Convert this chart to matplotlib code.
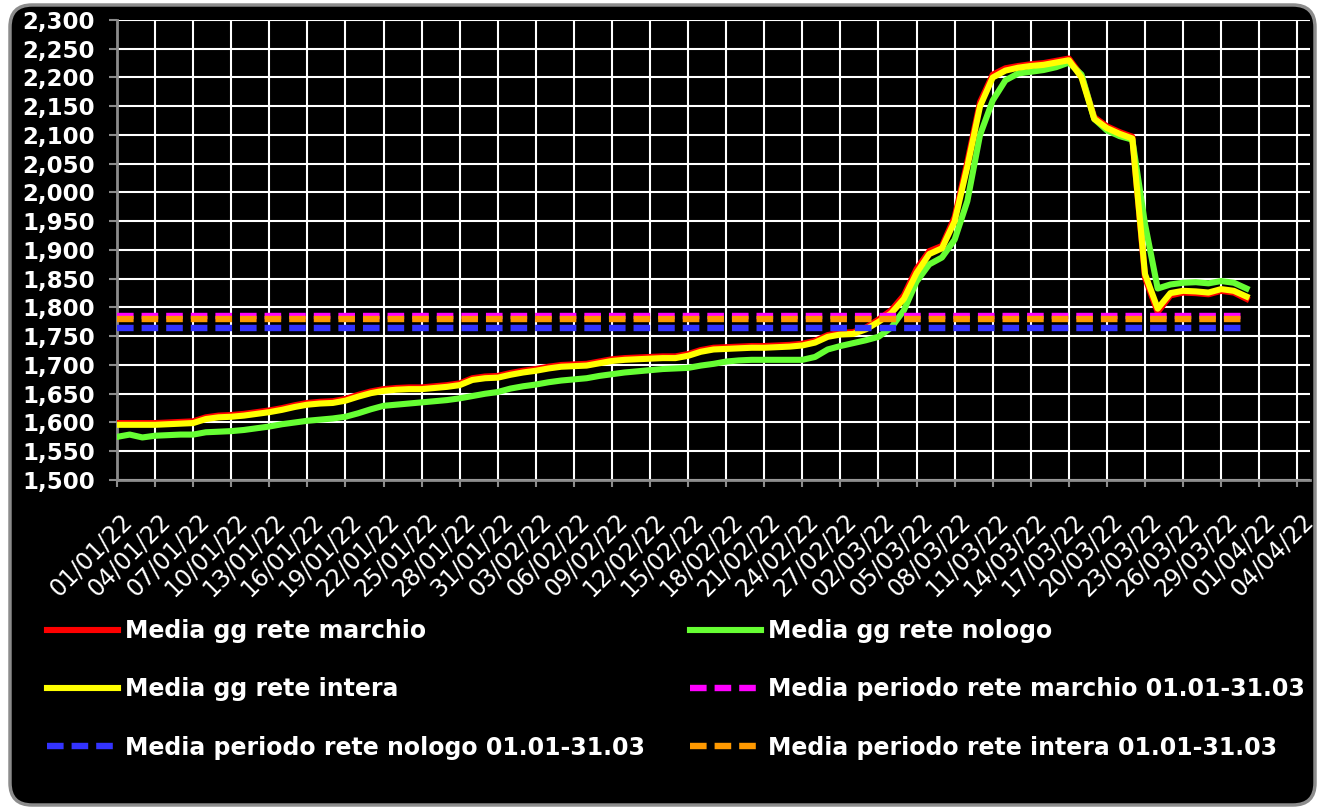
import numpy as np
import pandas as pd
import matplotlib
matplotlib.use("Agg")
import matplotlib.pyplot as plt
import matplotlib.dates as mdates
from matplotlib.patches import FancyBboxPatch
from matplotlib.transforms import IdentityTransform, ScaledTranslation
from matplotlib.ticker import FuncFormatter, MultipleLocator

# daily values 01/01/22 .. 31/03/22
dates = pd.date_range("2022-01-01", "2022-03-31", freq="D")

rete_marchio = [
    1599, 1599, 1599, 1599, 1600, 1601, 1602, 1609, 1612, 1613,
    1615, 1618, 1621, 1625, 1630, 1634, 1636, 1637, 1641, 1648,
    1654, 1658, 1660, 1661, 1661, 1663, 1665, 1668, 1677, 1680,
    1681, 1686, 1690, 1693, 1697, 1700, 1701, 1702, 1706, 1710,
    1712, 1713, 1714, 1715, 1715, 1719, 1726, 1730, 1731, 1732,
    1733, 1733, 1734, 1735, 1737, 1742, 1752, 1756, 1757, 1765,
    1779, 1795, 1821, 1867, 1898, 1907, 1957, 2053, 2157, 2205,
    2216, 2220, 2223, 2225, 2229, 2233, 2203, 2131, 2115, 2105,
    2097, 1852, 1792, 1821, 1826, 1825, 1823, 1829, 1826, 1815,
]
rete_nologo = [
    1575, 1579, 1574, 1577, 1578, 1579, 1579, 1583, 1584, 1585,
    1587, 1590, 1593, 1597, 1600, 1603, 1605, 1607, 1610, 1616,
    1623, 1629, 1631, 1633, 1635, 1637, 1639, 1642, 1646, 1650,
    1653, 1659, 1663, 1666, 1670, 1673, 1675, 1677, 1681, 1684,
    1687, 1689, 1691, 1693, 1694, 1695, 1699, 1702, 1706, 1708,
    1709, 1709, 1709, 1709, 1709, 1714, 1727, 1733, 1738, 1743,
    1749, 1765, 1795, 1845, 1875, 1887, 1918, 1985, 2100, 2160,
    2195, 2207, 2210, 2213, 2218, 2226, 2205, 2128, 2108, 2098,
    2092, 1945, 1833, 1840, 1843, 1844, 1842, 1846, 1843, 1833,
]
rete_intera = [
    1596, 1596, 1596, 1596, 1597, 1598, 1599, 1606, 1609, 1610,
    1612, 1615, 1618, 1622, 1627, 1631, 1633, 1634, 1638, 1645,
    1651, 1655, 1657, 1658, 1658, 1660, 1662, 1665, 1674, 1677,
    1678, 1683, 1687, 1690, 1694, 1697, 1698, 1699, 1703, 1707,
    1709, 1710, 1711, 1712, 1712, 1716, 1723, 1727, 1728, 1729,
    1730, 1730, 1731, 1732, 1734, 1739, 1749, 1753, 1754, 1762,
    1775, 1790, 1815, 1860, 1893, 1903, 1950, 2045, 2150, 2200,
    2212, 2217, 2220, 2222, 2226, 2230, 2200, 2128, 2112, 2102,
    2094, 1858, 1798, 1825, 1829, 1828, 1826, 1832, 1829, 1819,
]

# period averages 01.01-31.03
media_marchio = 1785
media_nologo = 1765
media_intera = 1780

labels = [
    "Media gg rete marchio",
    "Media gg rete nologo",
    "Media gg rete intera",
    "Media periodo rete marchio 01.01-31.03",
    "Media periodo rete nologo 01.01-31.03",
    "Media periodo rete intera 01.01-31.03",
]

fig = plt.figure(figsize=(13.22, 8.08), dpi=100)
fig.patch.set_facecolor("white")

# rounded black chart area
bg = FancyBboxPatch((10, 3), 1305, 800, boxstyle="round,pad=0,rounding_size=22",
                    transform=IdentityTransform(), facecolor="black",
                    edgecolor="#8c8c8c", linewidth=2.5, zorder=-5)
fig.patches.append(bg)

ax = fig.add_axes([117 / 1322, 1 - 480 / 808, (1310 - 117) / 1322, 460 / 808])
ax.set_facecolor("black")

lw = 4.4
l_m, = ax.plot(dates, rete_marchio, color="#ff0000", lw=lw, label=labels[0], zorder=3)
l_n, = ax.plot(dates, rete_nologo, color="#66ff33", lw=lw, label=labels[1], zorder=3)
l_i, = ax.plot(dates, rete_intera, color="#ffff00", lw=lw, label=labels[2], zorder=3)

dash = (2.6, 1.25)
p_m, = ax.plot(dates, np.full(len(dates), media_marchio), color="#ff00ff", lw=4.6,
               dashes=dash, label=labels[3], zorder=4)
p_n, = ax.plot(dates, np.full(len(dates), media_nologo), color="#3333ff", lw=4.6,
               dashes=dash, label=labels[4], zorder=4)
p_i, = ax.plot(dates, np.full(len(dates), media_intera), color="#ff9900", lw=4.6,
               dashes=dash, label=labels[5], zorder=4)

ax.set_ylim(1500, 2300)
ax.set_xlim(pd.Timestamp("2022-01-01"), pd.Timestamp("2022-04-05"))
ax.yaxis.set_major_locator(MultipleLocator(50))
ax.yaxis.set_major_formatter(FuncFormatter(lambda v, p: f"{v:,.0f}"))
ticks = pd.date_range("2022-01-01", "2022-04-04", freq="3D")
ax.set_xticks(ticks)
ax.xaxis.set_major_formatter(mdates.DateFormatter("%d/%m/%y"))

ax.grid(True, color="white", lw=1.5, zorder=1)
for s in ["top", "right"]:
    ax.spines[s].set_visible(False)
for s in ["left", "bottom"]:
    ax.spines[s].set_color("#8c8c8c")
    ax.spines[s].set_linewidth(2)

ax.tick_params(axis="y", colors="#8c8c8c", length=6, width=1.5, pad=10,
               labelcolor="white", labelsize=16.5)
ax.tick_params(axis="x", colors="#8c8c8c", length=5, width=1.5, pad=22,
               labelcolor="white", labelsize=17)
for t in ax.get_yticklabels():
    t.set_fontweight("bold")
off = ScaledTranslation(12 / 100, 0, fig.dpi_scale_trans)
for t in ax.get_xticklabels():
    t.set_rotation(45)
    t.set_ha("right")
    t.set_va("center")
    t.set_rotation_mode("anchor")
    t.set_transform(t.get_transform() + off)

handles = [l_m, l_i, p_n, l_n, p_m, p_i]
leg = fig.legend(handles=handles, labels=[h.get_label() for h in handles],
                 loc="upper left", bbox_to_anchor=(26 / 1322, 1 - 598 / 808),
                 ncol=2, frameon=False, handlelength=3.0, handletextpad=0.3,
                 columnspacing=1.9, labelspacing=1.45,
                 prop={"weight": "bold", "size": 17})
for txt in leg.get_texts():
    txt.set_color("white")

fig.savefig("out.png", dpi=100, facecolor=fig.get_facecolor())
